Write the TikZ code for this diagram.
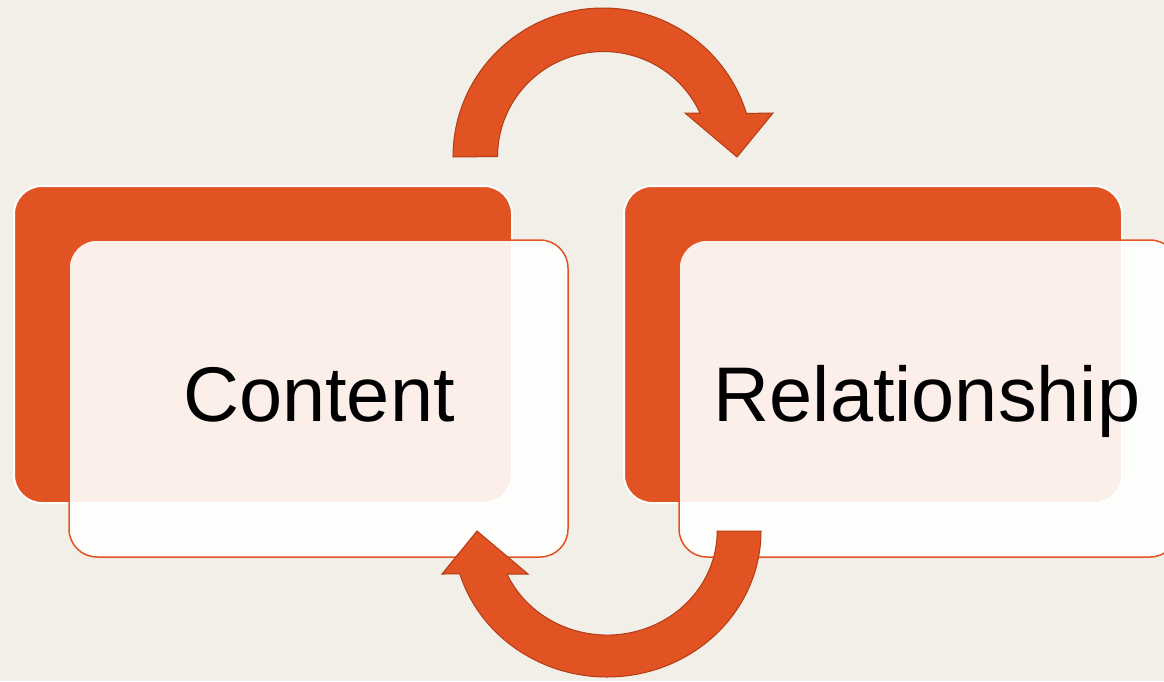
\documentclass[tikz,border=0pt]{standalone}
\usepackage{fontspec}
\setmainfont{Liberation Sans}
\definecolor{bg}{HTML}{F2EFE9}
\definecolor{orng}{HTML}{E25324}
\definecolor{orngdark}{HTML}{B33C16}
\tikzset{
  backbox/.style={draw=white, line width=2pt, fill=orng, rounded corners=28pt,
    minimum width=498pt, minimum height=317pt, inner sep=0pt},
  frontbox/.style={draw=orng, line width=1.5pt, fill=white, fill opacity=0.9,
    rounded corners=28pt, minimum width=499pt, minimum height=317pt, inner sep=0pt},
  boxlabel/.style={anchor=base, inner sep=0pt, font=\fontsize{77.5}{90}\selectfont, text=black},
  bentarrow/.style={fill=orng, draw=orngdark, line width=1pt, line join=miter}
}
\begin{document}
\begin{tikzpicture}[x=1pt,y=-1pt]
\fill[bg] (0,0) rectangle (1164,681);
\useasboundingbox (0,0) rectangle (1164,681);
\clip (0,0) rectangle (1164,681);
% back boxes
\node[backbox] (cback) at (263,344.5) {};
\node[backbox] (rback) at (873,344.5) {};
% front boxes
\node[frontbox] (content) at (318.5,398.5) {};
\node[frontbox] (relation) at (928.5,398.5) {};
\node[boxlabel] (contentlabel) at (319,421) {Content};
\node[boxlabel] (relationlabel) at (927,421) {Relationship};
% top arrow
\path[bentarrow] (453,157) arc[start angle=180, end angle=343, x radius=150, y radius=149]
  -- (773,113) -- (737,157) -- (685,113) -- (700,113)
  arc[start angle=335.5, end angle=180, x radius=106, y radius=105] -- cycle;
% bottom arrow
\path[bentarrow] (761,531) arc[start angle=0, end angle=162.9, x radius=154, y radius=146]
  -- (442,574) -- (477,531) -- (528,574) -- (507,574)
  arc[start angle=155.6, end angle=0, x radius=110, y radius=104] -- cycle;
\end{tikzpicture}
\end{document}
